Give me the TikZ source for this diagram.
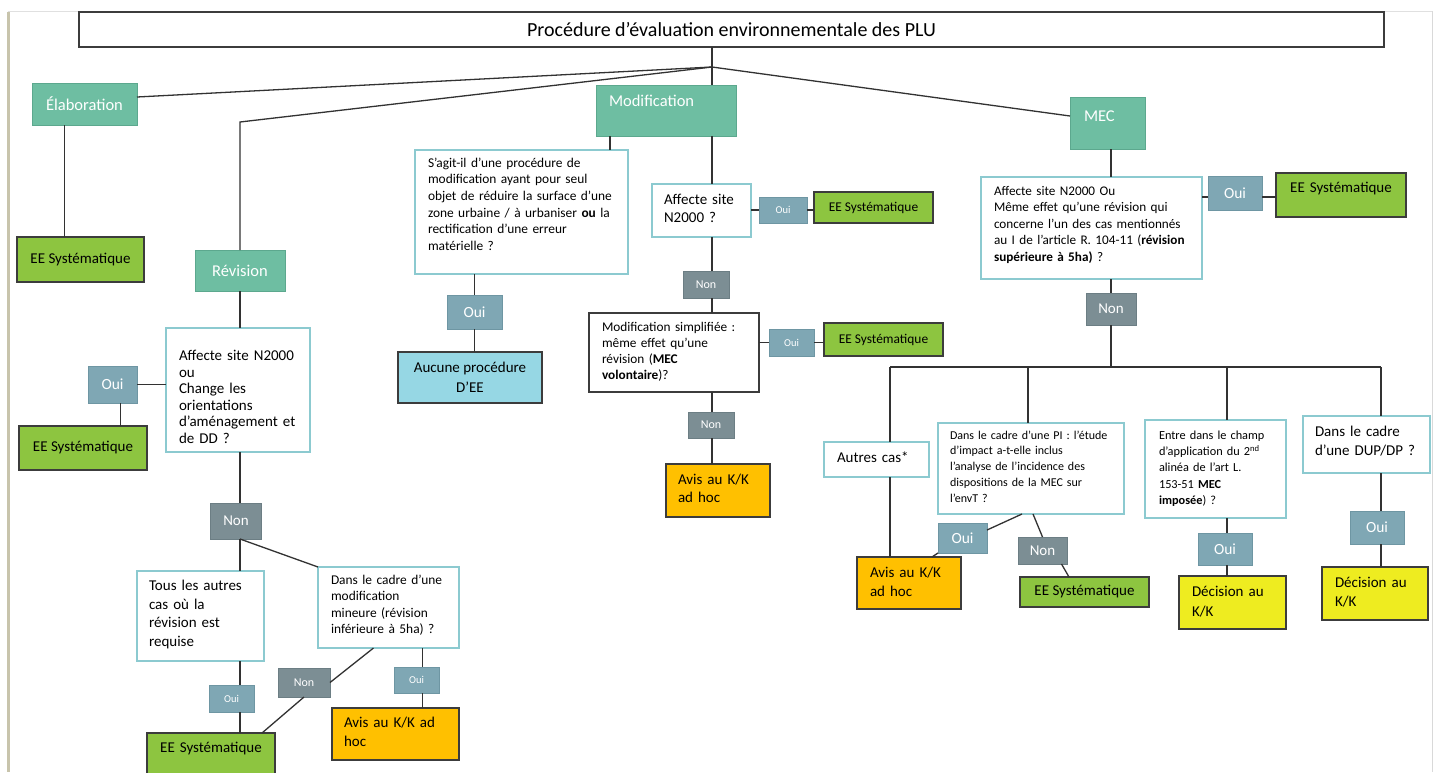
\documentclass[tikz,border=0pt]{standalone}
\usepackage{fontspec}
\setmainfont{Carlito}
\definecolor{tealc}{RGB}{110,190,162}
\definecolor{tealb}{RGB}{92,168,142}
\definecolor{ouic}{RGB}{127,167,180}
\definecolor{ouib}{RGB}{110,150,163}
\definecolor{nonc}{RGB}{124,142,148}
\definecolor{nonb}{RGB}{108,126,132}
\definecolor{eec}{RGB}{141,197,64}
\definecolor{avisc}{RGB}{255,192,0}
\definecolor{decc}{RGB}{238,236,32}
\definecolor{aucunc}{RGB}{150,215,228}
\definecolor{qb}{RGB}{140,202,208}
\definecolor{boxb}{RGB}{60,60,60}
\definecolor{linec}{RGB}{50,50,50}
\definecolor{bordg}{RGB}{200,196,172}
\tikzset{
  lien/.style={draw=linec, line width=1.3pt},
  boite/.style={rectangle, inner sep=0pt, outer sep=0pt},
  vert/.style={boite, fill=tealc, draw=tealb, line width=0.8pt, text=white, font=\fontsize{16.5}{19}\selectfont},
  oui/.style={boite, fill=ouic, draw=ouib, line width=0.8pt, text=white, font=\fontsize{15.5}{18}\selectfont},
  petitoui/.style={oui, font=\fontsize{10.5}{12}\selectfont},
  non/.style={boite, fill=nonc, draw=nonb, line width=0.8pt, text=white, font=\fontsize{15}{18}\selectfont},
  petitnon/.style={non, font=\fontsize{12}{14}\selectfont},
  ee/.style={boite, fill=eec, draw=boxb, line width=1.5pt, font=\fontsize{15}{18}\selectfont},
  petitee/.style={ee, font=\fontsize{13.4}{16}\selectfont},
  avis/.style={boite, fill=avisc, draw=boxb, line width=1.5pt},
  decision/.style={boite, fill=decc, draw=boxb, line width=1.5pt},
  question/.style={boite, fill=white, draw=qb, line width=1.2pt},
  taille/.style n args={4}{anchor=north west, align=left, text width=#1, text height=#2, text depth=#3, inner xsep=#4, inner ysep=0pt}
}
\begin{document}
\begin{tikzpicture}[x=1pt,y=-1pt]
\useasboundingbox (0,0) rectangle (1440,772);
\fill[white] (0,0) rectangle (1440,772);
\draw[line width=0.6pt, black!12] (8,11) -- (1432,11);
\draw[line width=0.8pt, black!15] (1432,11) -- (1432,772);
\draw[line width=3pt, bordg] (8,12) -- (8,772);

\node[boite, draw=boxb, line width=1.2pt, minimum width=1305, minimum height=35, font=\fontsize{20}{24}\selectfont] (titre) at (731.5,29.5) {Procédure d’évaluation environnementale des PLU};
\coordinate (j) at (712,67);
\coordinate (rk) at (240,122);

% Elaboration
\node[vert, minimum width=105, minimum height=42] (elab) at (84.5,104) {Élaboration};
\node[ee, minimum width=127, minimum height=45] (ee1) at (80.5,259.5) {EE Systématique};

% Revision
\node[vert, minimum width=90, minimum height=41] (rev) at (240,270.5) {Révision};
\node[question, taille={118}{32.5}{91.5}{13}, font=\fontsize{15}{16.6}\selectfont] (q1) at (166,328) {Affecte site N2000\\ou\\Change les\\orientations\\d’aménagement et\\de DD ?};
\node[oui, minimum width=49, minimum height=37] (oui1) at (112.5,384.5) {Oui};
\node[ee, minimum width=128, minimum height=44] (ee2) at (83,448) {EE Systématique};
\node[non, minimum width=51, minimum height=36] (non1) at (236,521) {Non};
\node[question, taille={103}{19.5}{70.5}{12}, font=\fontsize{15}{18.7}\selectfont] (q2) at (137,571) {Tous les autres\\cas où la\\révision est\\requise};
\node[question, taille={115}{17}{64}{13}, font=\fontsize{13.4}{16.6}\selectfont] (q3) at (318,567) {Dans le cadre d’une\\modification\\mineure (révision\\inférieure à 5ha) ?};
\node[petitoui, minimum width=45, minimum height=27] (oui2) at (231.5,698.5) {Oui};
\node[ee, taille={112}{19.5}{50.5}{8}, align=center] (ee3) at (147,733) {EE Systématique};
\node[petitnon, minimum width=52, minimum height=29] (non2) at (304,682.5) {Non};
\node[petitoui, minimum width=45, minimum height=26] (oui3) at (416.5,680) {Oui};
\node[avis, taille={103}{19.5}{32.5}{12}, font=\fontsize{15}{19}\selectfont] (avis1) at (332,708) {Avis au K/K ad\\hoc};

% Modification
\node[vert, taille={114}{21}{30}{13}] (mod) at (596,85) {Modification};
\node[question, taille={187}{17}{107}{13}, font=\fontsize{13.4}{16.7}\selectfont] (q4) at (415,150) {S’agit-il d’une procédure de\\modification ayant pour seul\\objet de réduire la surface d’une\\zone urbaine / à urbaniser \textbf{ou} la\\rectification d’une erreur\\matérielle ?};
\node[oui, minimum width=55, minimum height=34] (oui6) at (474.5,312) {Oui};
\node[boite, fill=aucunc, draw=boxb, line width=1.5pt, minimum width=144, minimum height=51, align=center, font=\fontsize{15}{20}\selectfont] (aucune) at (470,377.5) {Aucune procédure\\D’EE};
\node[question, taille={75}{20.5}{32.5}{12}, font=\fontsize{15}{18}\selectfont] (q5) at (652,184) {Affecte site\\N2000 ?};
\node[petitoui, minimum width=48, minimum height=26] (oui5) at (783,210) {Oui};
\node[petitee, minimum width=119, minimum height=31] (ee5) at (873.5,207.5) {EE Systématique};
\node[petitnon, minimum width=46, minimum height=27] (non3) at (706,284.5) {Non};
\node[question, draw=boxb, taille={144}{18}{61}{13}, font=\fontsize{13.3}{16.2}\selectfont] (q6) at (589,313) {Modification simplifiée :\\même effet qu’une\\révision (\textbf{MEC}\\\textbf{volontaire})?};
\node[petitoui, minimum width=45, minimum height=27] (oui4) at (791.5,342.5) {Oui};
\node[petitee, minimum width=119, minimum height=33] (ee4) at (883.5,339.5) {EE Systématique};
\node[petitnon, minimum width=46, minimum height=26] (non4) at (711,425) {Non};
\node[avis, taille={80}{20.5}{32.5}{12}, font=\fontsize{15}{18}\selectfont] (avis2) at (666,464) {Avis au K/K\\ad hoc};

% MEC
\node[vert, taille={47}{24}{28}{14}] (mec) at (1070,97) {MEC};
\node[question, taille={195}{18}{84}{13}, font=\fontsize{13.2}{16.5}\selectfont] (q7) at (981,177) {Affecte site N2000 Ou\\Même effet qu’une révision qui\\concerne l’un des cas mentionnés\\au I de l’article R. 104-11 (\textbf{révision}\\\textbf{supérieure à 5ha)} ?};
\node[oui, minimum width=54, minimum height=34] (oui7) at (1235,193) {Oui};
\node[ee, taille={114}{19.5}{24.5}{8}, align=center] (ee6) at (1276,173) {EE Systématique};
\node[non, minimum width=50, minimum height=32] (non5) at (1111,309) {Non};
\coordinate (b1) at (890,367);
\coordinate (b2) at (1028,367);
\coordinate (b3) at (1227,367);
\coordinate (b4) at (1381,367);
\node[question, taille={79}{20.5}{14.5}{13}, font=\fontsize{15}{18}\selectfont] (autres) at (824,442) {Autres cas*};
\node[question, taille={162}{16}{75}{12}, font=\fontsize{12}{15.8}\selectfont] (q8) at (938,423) {Dans le cadre d’une PI : l’étude\\d’impact a-t-elle inclus\\l’analyse de l’incidence des\\dispositions de la MEC sur\\l’envT ?};
\node[question, taille={113}{19}{79}{14}, font=\fontsize{12.3}{16.4}\selectfont] (q9) at (1145,420) {Entre dans le champ\\d’application du 2\textsuperscript{nd}\\alinéa de l’art L.\\153-51 \textbf{MEC}\\\textbf{imposée}) ?};
\node[question, taille={103}{20.5}{36.5}{12}, font=\fontsize{15}{19}\selectfont] (q10) at (1303,416) {Dans le cadre\\d’une DUP/DP ?};
\node[avis, taille={78}{20.5}{31.5}{13}, font=\fontsize{15}{19}\selectfont] (avis3) at (857,557) {Avis au K/K\\ad hoc};
\node[oui, minimum width=49, minimum height=30] (oui8) at (962.5,538) {Oui};
\node[non, minimum width=49, minimum height=27] (non6) at (1042.5,550.5) {Non};
\node[ee, minimum width=129, minimum height=30] (ee7) at (1084.5,592) {EE Systématique};
\node[oui, minimum width=54, minimum height=32] (oui9) at (1225,549) {Oui};
\node[decision, taille={81}{20.5}{32.5}{13}, font=\fontsize{15}{20}\selectfont] (dec1) at (1179,576) {Décision au\\K/K};
\node[oui, minimum width=54, minimum height=33] (oui10) at (1377,527.5) {Oui};
\node[decision, taille={80}{20.5}{32.5}{13}, font=\fontsize{15}{19}\selectfont] (dec2) at (1322,567) {Décision au\\K/K};

% liens
\draw[lien] (j |- titre.south) -- (j |- mod.north);
\draw[lien] (j) -- ([yshift=7pt]elab.east);
\draw[lien] (j) -- (rk) -- (rk |- rev.north);
\draw[lien] (j) -- ([yshift=7pt]mec.west);
\coordinate (ek) at ([xshift=-20pt]elab.south);
\draw[lien] (ek) -- (ek |- ee1.north);
\draw[lien] (rk |- rev.south) -- (rk |- q1.north);
\draw[lien] (oui1.east) -- (oui1.east -| q1.west);
\coordinate (ok) at ([xshift=8pt]oui1.south);
\draw[lien] (ok) -- (ok |- ee2.north);
\draw[lien] (rk |- q1.south) -- (rk |- non1.north);
\draw[lien] (rk |- non1.south) -- (rk |- q2.north);
\draw[lien] (rk |- non1.south) -- (q3.north west);
\draw[lien] (rk |- q2.south) -- (rk |- oui2.north);
\draw[lien] (rk |- oui2.south) -- (rk |- ee3.north);
\draw[lien] ([xshift=-15pt]q3.south) -- (non2.east);
\draw[lien] (non2.south) -- ([xshift=-13pt]ee3.north east);
\coordinate (mk) at ([xshift=34pt]q3.south);
\draw[lien] (mk) -- (mk |- oui3.north);
\draw[lien] (mk |- oui3.south) -- (mk |- avis1.north);
\coordinate (dk) at ([xshift=14pt]mod.south west);
\draw[lien] (dk) -- (dk |- q4.north);
\draw[lien] (oui6.north |- q4.south) -- (oui6.north);
\draw[lien] (oui6.south) -- (oui6.south |- aucune.north);
\draw[lien] (j |- mod.south) -- (j |- q5.north);
\draw[lien] (oui5.west -| q5.east) -- (oui5.west);
\draw[lien] (oui5.east) -- (oui5.east -| ee5.west);
\draw[lien] (j |- q5.south) -- (j |- non3.north);
\draw[lien] (j |- non3.south) -- (j |- q6.north);
\draw[lien] (oui4.west -| q6.east) -- (oui4.west);
\draw[lien] (oui4.east) -- (oui4.east -| ee4.west);
\draw[lien] (j |- q6.south) -- (j |- non4.north);
\draw[lien] (j |- non4.south) -- (j |- avis2.north);
\draw[lien] (non5 |- mec.south) -- (non5 |- q7.north);
\draw[lien] ([yshift=-4pt]oui7.west -| q7.east) -- ([yshift=-4pt]oui7.west);
\draw[lien] ([yshift=-4pt]oui7.east) -- ([yshift=-4pt]oui7.east -| ee6.west);
\draw[lien] (non5 |- q7.south) -- (non5.north);
\draw[lien] (non5.south) -- (non5 |- b1);
\draw[lien] (b1) -- (b4);
\draw[lien] (b1) -- (b1 |- autres.north);
\draw[lien] (b2) -- (b2 |- q8.north);
\draw[lien] (b3) -- (b3 |- q9.north);
\draw[lien] (b4) -- (b4 |- q10.north);
\draw[lien] (b1 |- autres.south) -- (b1 |- avis3.north);
\coordinate (p1) at ([xshift=84pt]q8.south west);
\coordinate (p2) at ([xshift=95pt]q8.south west);
\draw[lien] (p1) -- ([yshift=8pt]oui8.east);
\draw[lien] (oui8.south west) -- ([xshift=-29pt]avis3.north east);
\draw[lien] (p2) -- (non6.north);
\draw[lien] ([xshift=19pt]non6.south) -- ([xshift=49pt]ee7.north west);
\draw[lien] (b3 |- q9.south) -- (b3 |- oui9.north);
\draw[lien] (b3 |- oui9.south) -- (b3 |- dec1.north);
\draw[lien] (b4 |- q10.south) -- (b4 |- oui10.north);
\draw[lien] (b4 |- oui10.south) -- (b4 |- dec2.north);
\end{tikzpicture}
\end{document}
